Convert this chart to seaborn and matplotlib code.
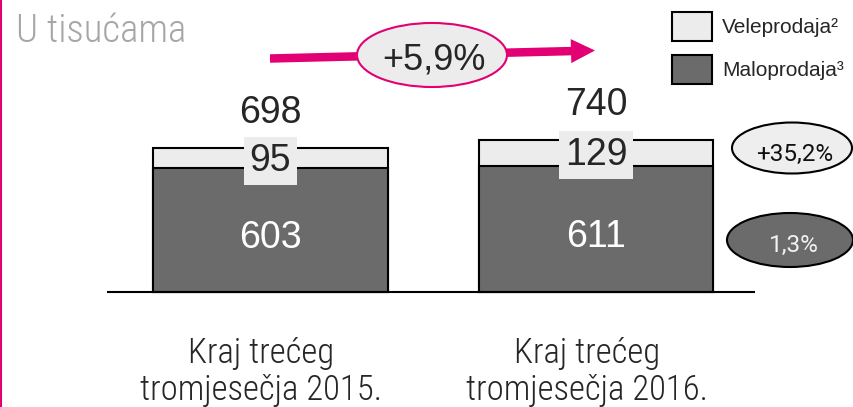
import matplotlib
matplotlib.use('Agg')
import matplotlib.pyplot as plt
import matplotlib.transforms as mtransforms
from matplotlib.patches import Ellipse, FancyArrow, Patch
from matplotlib.lines import Line2D
import seaborn as sns

sns.set_style('white')
plt.rcParams['font.family'] = ['Liberation Sans', 'DejaVu Sans']

# podaci (u tisućama)
categories = ['Kraj trećeg\ntromjesečja 2015.', 'Kraj trećeg\ntromjesečja 2016.']
maloprodaja = [603, 611]
veleprodaja = [95, 129]
series_names = ['Veleprodaja²', 'Maloprodaja³']
total_growth = '+5,9%'
vele_growth = '+35,2%'
malo_growth = '1,3%'
totals = [m + v for m, v in zip(maloprodaja, veleprodaja)]

magenta = '#e20074'
light = '#ececec'
dark = '#6b6b6b'
narrow = ['Roboto Condensed', 'Liberation Sans Narrow', 'DejaVu Sans Condensed', 'Lato']

fig = plt.figure(figsize=(8.54, 4.07), dpi=100)
ax = fig.add_axes([0, 0, 1, 1])
# pixel coordinates of the canvas, origin top-left
px = mtransforms.Affine2D().scale(1 / 854, -1 / 407).translate(0, 1) + fig.transFigure

sns.barplot(x=categories, y=totals, color=light, saturation=1, width=0.72,
            edgecolor='black', linewidth=1.5, ax=ax)
sns.barplot(x=categories, y=maloprodaja, color=dark, saturation=1, width=0.72,
            edgecolor='black', linewidth=1.5, ax=ax)
ax.set_xlim(-0.831, 1.7926)
ax.set_ylim(-559, 1420)
ax.set_axis_off()
ax.hlines(0, -0.502, 1.488, color='black', lw=1.5, zorder=5)

for i in range(len(categories)):
    ax.text(i, totals[i] + 122, str(totals[i]), ha='center', va='baseline', fontsize=27)
    ax.text(i, maloprodaja[i] + veleprodaja[i] / 2 - 60, str(veleprodaja[i]),
            ha='center', va='baseline', fontsize=27,
            bbox=dict(boxstyle='square,pad=0.16', fc=light, ec='none'))
    ax.text(i, maloprodaja[i] / 2 - 85, str(maloprodaja[i]), ha='center',
            va='baseline', fontsize=27, color='white')
    ax.text(i - 0.028, -525, categories[i], ha='center', va='baseline',
            fontsize=25, family=narrow, weight='light', linespacing=1.15)

# naslov i lijevi rub
fig.text(16, 42, 'U tisućama', transform=px, fontsize=28, family=narrow, weight='light',
         color='#a6a6a6', ha='left', va='baseline')
fig.add_artist(Line2D([1, 1], [0, 407], transform=px, color=magenta, lw=1.5))

# strelica rasta
fig.add_artist(FancyArrow(270, 58.5, 325, -8, width=8.5, head_width=24, head_length=24,
                          length_includes_head=True, fc=magenta, ec='none', transform=px))
fig.add_artist(Ellipse((432, 55), 150, 64, fc=light, ec=magenta, lw=1.5, transform=px))
fig.text(434, 69, total_growth, transform=px, fontsize=26, ha='center', va='baseline')

# promjene po segmentu
fig.add_artist(Ellipse((792, 148), 120, 51, fc='#eeeeee', ec='black', lw=1.5, transform=px))
fig.text(795, 161, vele_growth, transform=px, fontsize=17.5, ha='center', va='baseline',
         family=['Roboto', 'Liberation Sans'], color='#111111')
fig.add_artist(Ellipse((790, 240), 126, 54, fc=dark, ec='black', lw=1.5, transform=px))
fig.text(794, 252, malo_growth, transform=px, fontsize=17.5, ha='center', va='baseline',
         family=['Roboto', 'Liberation Sans'], color='#f2f2f2')

handles = [Patch(fc=light, ec='black', lw=1.5), Patch(fc=dark, ec='black', lw=1.5)]
ax.legend(handles=handles, labels=series_names, loc='upper left',
          bbox_to_anchor=(672 / 854, 1 - 12 / 407), bbox_transform=fig.transFigure,
          frameon=False, fontsize=15, handlelength=1.92, handleheight=1.77,
          handletextpad=0.48, labelspacing=0.65, borderpad=0, borderaxespad=0)

fig.savefig('out.png', dpi=100)
